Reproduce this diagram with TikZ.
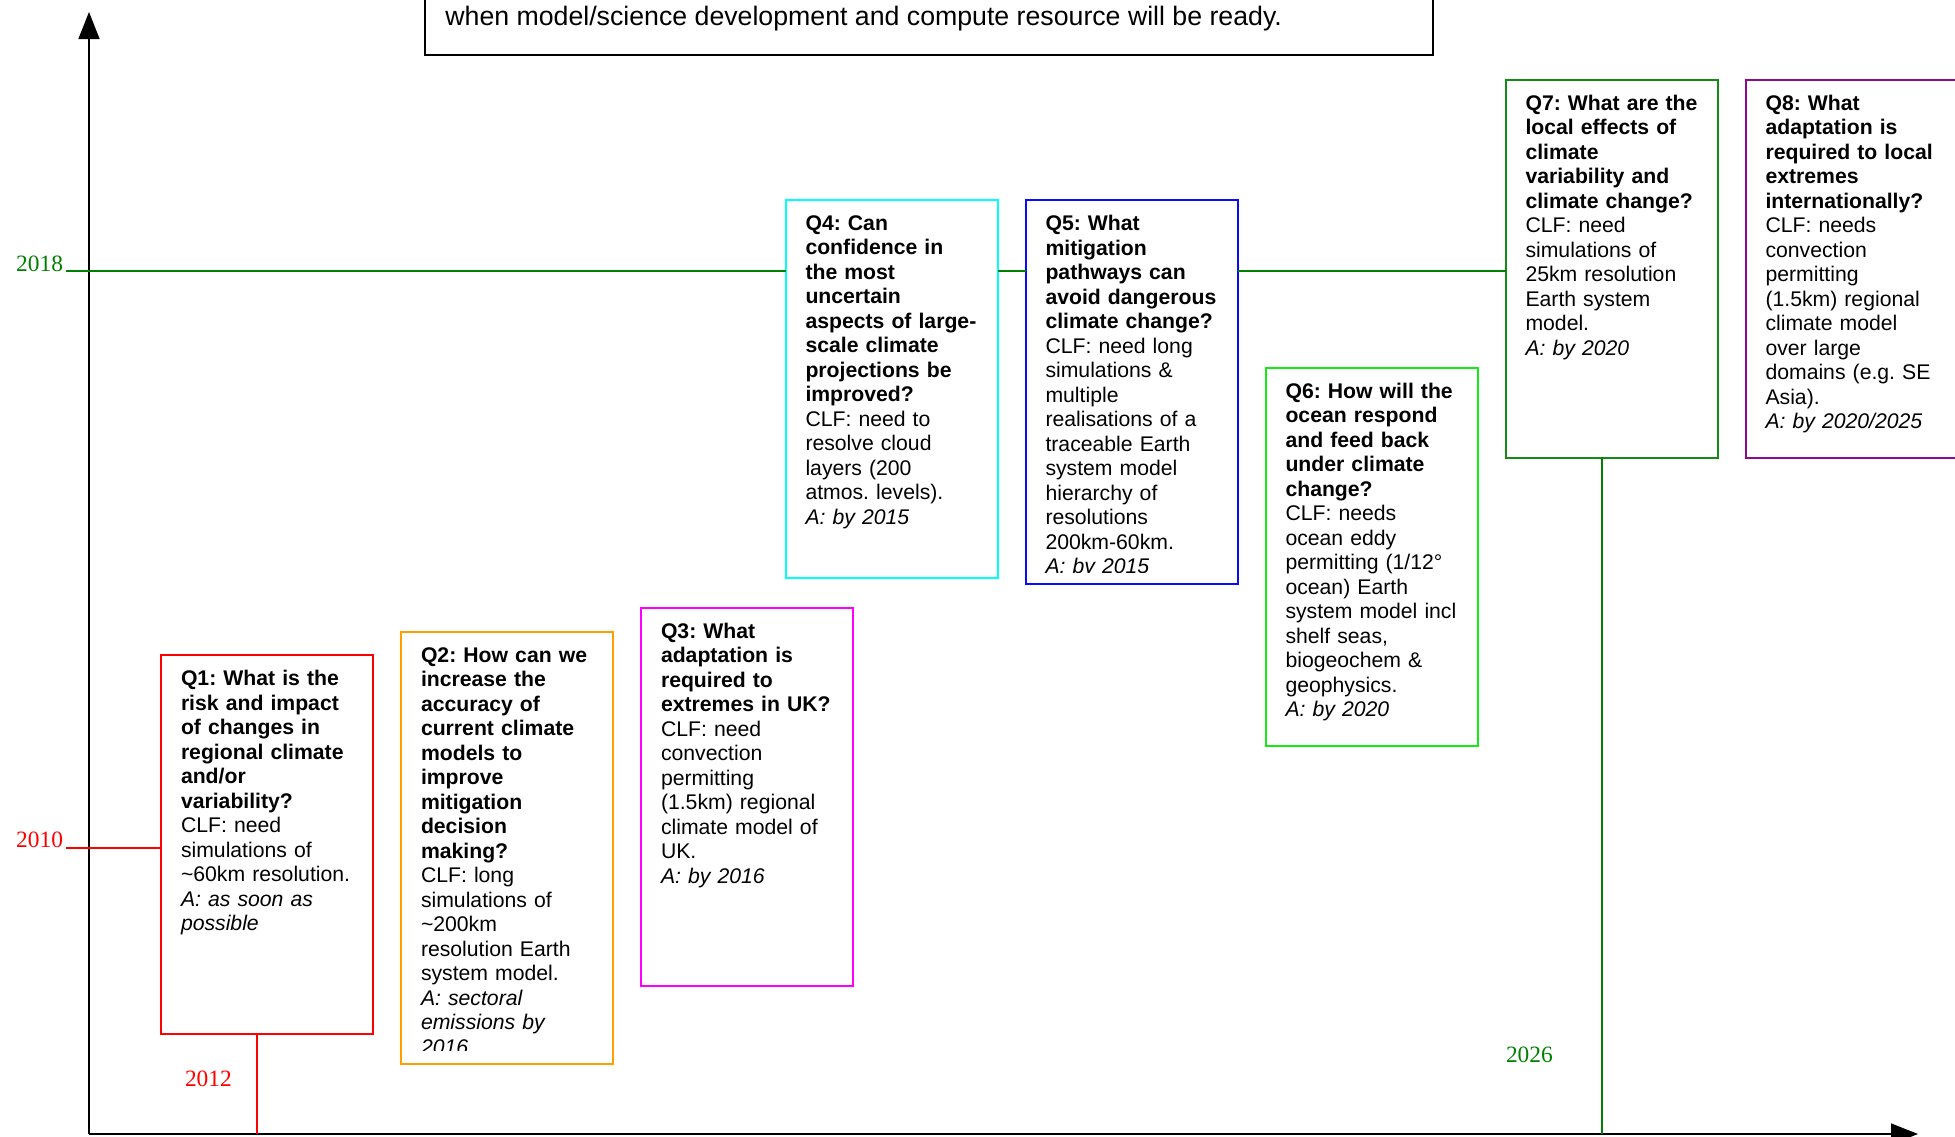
\documentclass[tikz,border=0pt]{standalone}
\usepackage{fontspec}
\setmainfont{Liberation Sans}
\newfontfamily\yearfont{Liberation Serif}
\usetikzlibrary{arrows.meta}
\frenchspacing
\definecolor{qorange}{RGB}{255,158,0}
\definecolor{qmagenta}{RGB}{255,0,255}
\definecolor{qcyan}{RGB}{0,255,255}
\definecolor{qlime}{RGB}{20,235,20}
\definecolor{qdkgreen}{RGB}{20,140,20}
\definecolor{linegreen}{RGB}{0,128,0}
\definecolor{qpurple}{RGB}{140,10,140}
\definecolor{qblue}{RGB}{10,10,255}
\definecolor{qred}{RGB}{255,0,0}
\tikzset{
  qbox/.style={draw=#1, line width=1pt, inner sep=0pt, outer sep=0pt, anchor=north west, minimum width=106pt},
  qtext/.style={anchor=north west, inner sep=0pt, outer sep=0pt, align=left, text width=98pt, font=\fontsize{10.6}{12.25}\selectfont},
  yearlbl/.style={font=\yearfont\fontsize{11.7}{14}\selectfont, inner sep=0pt, outer sep=0pt},
  tline/.style={line width=0.8pt},
  axisline/.style={line width=0.8pt, draw=black}
}
\begin{document}
\begin{tikzpicture}[x=0.5pt,y=-0.5pt]
\useasboundingbox (0,0) rectangle (1955,1136);
\clip (0,0) rectangle (1955,1136);

% top note box
\node[draw=black, line width=1pt, inner sep=0pt, outer sep=0pt, anchor=south west, minimum width=504pt, minimum height=100pt] (top) at (425,55) {};
\node[anchor=base west, inner sep=0pt, font=\fontsize{13.35}{16}\selectfont] (toptext) at (445,25) {when model/science development and compute resource will be ready.};

% axes
\coordinate (origin) at (89,1134);
\coordinate (ytop) at (89,12);
\coordinate (xend) at (1918,1134);
\draw[axisline, -{Triangle[length=13.5pt,width=10.5pt]}] (origin) -- (ytop);
\draw[axisline, -{Triangle[length=13.5pt,width=10.5pt]}] (origin) -- (xend);

% boxes
\node[qbox=qred, minimum height=189.5pt] (q1) at (161,655) {};
\node[qbox=qorange, minimum height=216pt] (q2) at (401,632) {};
\node[qbox=qmagenta, minimum height=189.25pt] (q3) at (641,607.5) {};
\node[qbox=qcyan, minimum height=189pt] (q4) at (785.5,200) {};
\node[qbox=qblue, minimum height=192pt] (q5) at (1025.5,200) {};
\node[qbox=qlime, minimum height=189.25pt] (q6) at (1265.5,367.5) {};
\node[qbox=qdkgreen, minimum height=189.25pt] (q7) at (1505.5,79.5) {};
\node[qbox=qpurple, minimum height=189pt] (q8) at (1745.5,79.5) {};

% texts
\begin{scope}
\clip (q1.north west) rectangle ([yshift=5.5pt]q1.south east);
\node[qtext] (t1) at ([shift={(10pt,-7.8pt)}]q1.north west) {\textbf{Q1: What is the\\risk and impact\\of changes in\\regional climate\\and/or\\variability?}\\CLF: need\\simulations of\\\textasciitilde60km resolution.\\\textit{A: as soon as\\possible}};
\end{scope}
\begin{scope}
\clip (q2.north west) rectangle ([yshift=7pt]q2.south east);
\node[qtext] (t2) at ([shift={(10pt,-7.8pt)}]q2.north west) {\textbf{Q2: How can we\\increase the\\accuracy of\\current climate\\models to\\improve\\mitigation\\decision\\making?}\\CLF: long\\simulations of\\\textasciitilde200km\\resolution Earth\\system model.\\\textit{A: sectoral\\emissions by\\2016}};
\end{scope}
\begin{scope}
\clip (q3.north west) rectangle ([yshift=5.5pt]q3.south east);
\node[qtext] (t3) at ([shift={(10pt,-7.8pt)}]q3.north west) {\textbf{Q3: What\\adaptation is\\required to\\extremes in UK?}\\CLF: need\\convection\\permitting\\(1.5km) regional\\climate model of\\UK.\\\textit{A: by 2016}};
\end{scope}
\begin{scope}
\clip (q4.north west) rectangle ([yshift=5.5pt]q4.south east);
\node[qtext] (t4) at ([shift={(10pt,-7.8pt)}]q4.north west) {\textbf{Q4: Can\\confidence in\\the most\\uncertain\\aspects of large-\\scale climate\\projections be\\improved?}\\CLF: need to\\resolve cloud\\layers (200\\atmos. levels).\\\textit{A: by 2015}};
\end{scope}
\begin{scope}
\clip (q5.north west) rectangle ([yshift=5.6pt]q5.south east);
\node[qtext] (t5) at ([shift={(10pt,-7.8pt)}]q5.north west) {\textbf{Q5: What\\mitigation\\pathways can\\avoid dangerous\\climate change?}\\CLF: need long\\simulations \&\\multiple\\realisations of a\\traceable Earth\\system model\\hierarchy of\\resolutions\\200km-60km.\\\textit{A: by 2015}};
\end{scope}
\begin{scope}
\clip (q6.north west) rectangle ([yshift=5.5pt]q6.south east);
\node[qtext] (t6) at ([shift={(10pt,-7.8pt)}]q6.north west) {\textbf{Q6: How will the\\ocean respond\\and feed back\\under climate\\change?}\\CLF: needs\\ocean eddy\\permitting (1/12°\\ocean) Earth\\system model incl\\shelf seas,\\biogeochem \&\\geophysics.\\\textit{A: by 2020}};
\end{scope}
\begin{scope}
\clip (q7.north west) rectangle ([yshift=5.5pt]q7.south east);
\node[qtext] (t7) at ([shift={(10pt,-7.8pt)}]q7.north west) {\textbf{Q7: What are the\\local effects of\\climate\\variability and\\climate change?}\\CLF: need\\simulations of\\25km resolution\\Earth system\\model.\\\textit{A: by 2020}};
\end{scope}
\begin{scope}
\clip (q8.north west) rectangle ([yshift=5.5pt]q8.south east);
\node[qtext] (t8) at ([shift={(10pt,-7.8pt)}]q8.north west) {\textbf{Q8: What\\adaptation is\\required to local\\extremes\\internationally?}\\CLF: needs\\convection\\permitting\\(1.5km) regional\\climate model\\over large\\domains (e.g. SE\\Asia).\\\textit{A: by 2020/2025}};
\end{scope}

% year markers
\coordinate (y18) at (66,271);
\coordinate (y10) at (66,848);
\coordinate (c12) at (257,1134);
\coordinate (c26) at (1602,1134);
\node[yearlbl, text=linegreen, anchor=base east] (l2018) at (63,271) {2018};
\node[yearlbl, text=qred, anchor=base east] (l2010) at (63,847) {2010};
\node[yearlbl, text=qred, anchor=base west] (l2012) at (185,1086) {2012};
\node[yearlbl, text=linegreen, anchor=base west] (l2026) at (1506,1062) {2026};

\draw[tline, linegreen] (y18) -- (y18 -| q4.west);
\draw[tline, linegreen] (y18 -| q4.east) -- (y18 -| q5.west);
\draw[tline, linegreen] (y18 -| q5.east) -- (y18 -| q7.west);
\draw[tline, qred] (y10) -- (y10 -| q1.west);
\draw[tline, qred] (c12 |- q1.south) -- (c12);
\draw[tline, linegreen] (c26 |- q7.south) -- (c26);
\end{tikzpicture}
\end{document}
